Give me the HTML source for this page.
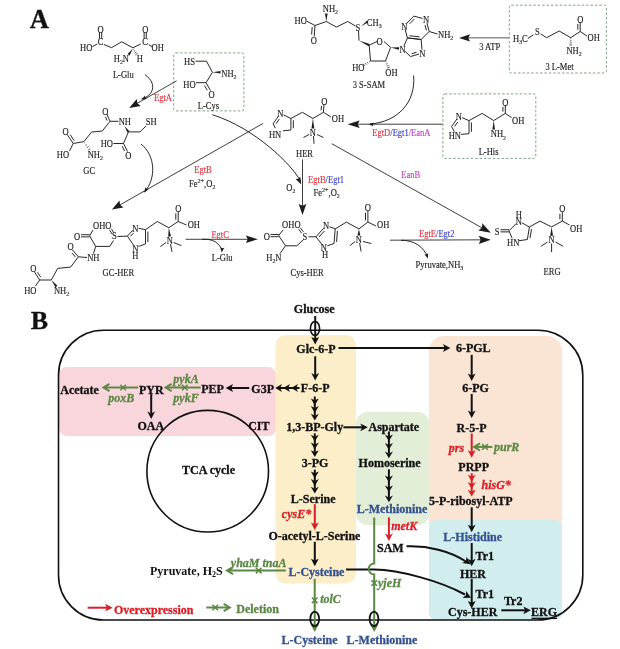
<!DOCTYPE html>
<html><head><meta charset="utf-8"><title>figure</title><style>
html,body{margin:0;padding:0;background:#fff;width:620px;height:649px;overflow:hidden}
svg{display:block;filter:blur(0.3px)}
text{font-family:"Liberation Serif",serif}
</style></head><body>
<svg width="620" height="649" viewBox="0 0 620 649">
<text x="39.5" y="329.0" font-size="26" fill="#111" stroke="#111" stroke-width="0.3" text-anchor="middle" style="font-weight:bold" >B</text>
<rect x="59" y="367" width="217" height="69" rx="8" fill="#f8d6dc"/>
<rect x="275.5" y="335" width="80.5" height="248.5" rx="10" fill="#fdeeca"/>
<rect x="429" y="336" width="133" height="200" rx="15" fill="#fae5d5"/>
<rect x="356" y="412" width="73.5" height="113" rx="12" fill="#e2eed7"/>
<rect x="429" y="520" width="133" height="100" rx="7" fill="#d1eded"/>
<rect x="58.5" y="330.2" width="524.3" height="289.8" rx="45" fill="none" stroke="#111" stroke-width="1.6"/>
<line x1="531.50" y1="618.30" x2="557.00" y2="618.30" stroke="#111" stroke-width="1.3"/>
<circle cx="207.7" cy="471.2" r="60.8" fill="none" stroke="#111" stroke-width="1.6"/>
<text x="314.2" y="313.4" font-size="12" fill="#111" stroke="#111" stroke-width="0.3" text-anchor="middle" style="font-weight:bold" >Glucose</text>
<text x="316.0" y="353.0" font-size="12" fill="#111" stroke="#111" stroke-width="0.3" text-anchor="middle" style="font-weight:bold" >Glc-6-P</text>
<text x="473.3" y="352.1" font-size="12" fill="#111" stroke="#111" stroke-width="0.3" text-anchor="middle" style="font-weight:bold" >6-PGL</text>
<text x="79.6" y="393.5" font-size="12" fill="#111" stroke="#111" stroke-width="0.3" text-anchor="middle" style="font-weight:bold" >Acetate</text>
<text x="151.3" y="393.5" font-size="12" fill="#111" stroke="#111" stroke-width="0.3" text-anchor="middle" style="font-weight:bold" >PYR</text>
<text x="212.5" y="393.4" font-size="12" fill="#111" stroke="#111" stroke-width="0.3" text-anchor="middle" style="font-weight:bold" >PEP</text>
<text x="262.7" y="393.4" font-size="12" fill="#111" stroke="#111" stroke-width="0.3" text-anchor="middle" style="font-weight:bold" >G3P</text>
<text x="315.2" y="392.3" font-size="12" fill="#111" stroke="#111" stroke-width="0.3" text-anchor="middle" style="font-weight:bold" >F-6-P</text>
<text x="475.5" y="392.4" font-size="12" fill="#111" stroke="#111" stroke-width="0.3" text-anchor="middle" style="font-weight:bold" >6-PG</text>
<text x="150.8" y="429.7" font-size="12" fill="#111" stroke="#111" stroke-width="0.3" text-anchor="middle" style="font-weight:bold" >OAA</text>
<text x="258.8" y="429.6" font-size="12" fill="#111" stroke="#111" stroke-width="0.3" text-anchor="middle" style="font-weight:bold" >CIT</text>
<text x="314.7" y="431.2" font-size="12" fill="#111" stroke="#111" stroke-width="0.3" text-anchor="middle" style="font-weight:bold" >1,3-BP-Gly</text>
<text x="393.8" y="430.5" font-size="12" fill="#111" stroke="#111" stroke-width="0.3" text-anchor="middle" style="font-weight:bold" >Aspartate</text>
<text x="471.5" y="431.9" font-size="12" fill="#111" stroke="#111" stroke-width="0.3" text-anchor="middle" style="font-weight:bold" >R-5-P</text>
<text x="121.3" y="402.1" font-size="12" fill="#5a8743" stroke="#5a8743" stroke-width="0.3" text-anchor="middle" style="font-weight:bold;font-style:italic" >poxB</text>
<text x="186.0" y="382.8" font-size="12" fill="#5a8743" stroke="#5a8743" stroke-width="0.3" text-anchor="middle" style="font-weight:bold;font-style:italic" >pykA</text>
<text x="186.0" y="402.0" font-size="12" fill="#5a8743" stroke="#5a8743" stroke-width="0.3" text-anchor="middle" style="font-weight:bold;font-style:italic" >pykF</text>
<text x="456.4" y="452.1" font-size="12" fill="#d81f26" stroke="#d81f26" stroke-width="0.3" text-anchor="middle" style="font-weight:bold;font-style:italic" >prs</text>
<text x="506.7" y="450.9" font-size="12" fill="#5a8743" stroke="#5a8743" stroke-width="0.3" text-anchor="middle" style="font-weight:bold;font-style:italic" >purR</text>
<text x="473.7" y="471.0" font-size="12" fill="#111" stroke="#111" stroke-width="0.3" text-anchor="middle" style="font-weight:bold" >PRPP</text>
<text x="315.1" y="467.2" font-size="12" fill="#111" stroke="#111" stroke-width="0.3" text-anchor="middle" style="font-weight:bold" >3-PG</text>
<text x="389.6" y="467.2" font-size="12" fill="#111" stroke="#111" stroke-width="0.3" text-anchor="middle" style="font-weight:bold" >Homoserine</text>
<text x="208.5" y="473.5" font-size="12" fill="#111" stroke="#111" stroke-width="0.3" text-anchor="middle" style="font-weight:bold" >TCA cycle</text>
<text x="496.2" y="488.9" font-size="12" fill="#d81f26" stroke="#d81f26" stroke-width="0.3" text-anchor="middle" style="font-weight:bold;font-style:italic" >hisG*</text>
<text x="313.2" y="502.5" font-size="12" fill="#111" stroke="#111" stroke-width="0.3" text-anchor="middle" style="font-weight:bold" >L-Serine</text>
<text x="470.8" y="504.5" font-size="12" fill="#111" stroke="#111" stroke-width="0.3" text-anchor="middle" style="font-weight:bold" >5-P-ribosyl-ATP</text>
<text x="392.0" y="513.3" font-size="12" fill="#34518f" stroke="#34518f" stroke-width="0.3" text-anchor="middle" style="font-weight:bold" >L-Methionine</text>
<text x="296.5" y="518.2" font-size="12" fill="#d81f26" stroke="#d81f26" stroke-width="0.3" text-anchor="middle" style="font-weight:bold;font-style:italic" >cysE*</text>
<text x="404.2" y="529.7" font-size="12" fill="#d81f26" stroke="#d81f26" stroke-width="0.3" text-anchor="middle" style="font-weight:bold;font-style:italic" >metK</text>
<text x="314.4" y="539.7" font-size="12" fill="#111" stroke="#111" stroke-width="0.3" text-anchor="middle" style="font-weight:bold" >O-acetyl-L-Serine</text>
<text x="472.7" y="541.3" font-size="12" fill="#34518f" stroke="#34518f" stroke-width="0.3" text-anchor="middle" style="font-weight:bold" >L-Histidine</text>
<text x="390.3" y="552.0" font-size="12" fill="#111" stroke="#111" stroke-width="0.3" text-anchor="middle" style="font-weight:bold" >SAM</text>
<text x="484.8" y="559.7" font-size="12" fill="#111" stroke="#111" stroke-width="0.3" text-anchor="middle" style="font-weight:bold" >Tr1</text>
<text x="258.7" y="566.8" font-size="12" fill="#5a8743" stroke="#5a8743" stroke-width="0.3" text-anchor="middle" style="font-weight:bold;font-style:italic" >yhaM tnaA</text>
<text x="150" y="575" font-size="12" fill="#111" style="font-weight:bold">Pyruvate, H<tspan font-size="8" dy="2">2</tspan><tspan dy="-2">S</tspan></text>
<text x="316.4" y="575.9" font-size="12" fill="#34518f" stroke="#34518f" stroke-width="0.3" text-anchor="middle" style="font-weight:bold" >L-Cysteine</text>
<text x="473.0" y="577.7" font-size="12" fill="#111" stroke="#111" stroke-width="0.3" text-anchor="middle" style="font-weight:bold" >HER</text>
<text x="389.7" y="587.0" font-size="12" fill="#5a8743" stroke="#5a8743" stroke-width="0.3" text-anchor="middle" style="font-weight:bold;font-style:italic" >yjeH</text>
<text x="484.8" y="598.0" font-size="12" fill="#111" stroke="#111" stroke-width="0.3" text-anchor="middle" style="font-weight:bold" >Tr1</text>
<text x="330.5" y="602.7" font-size="12" fill="#5a8743" stroke="#5a8743" stroke-width="0.3" text-anchor="middle" style="font-weight:bold;font-style:italic" >tolC</text>
<text x="513.2" y="605.2" font-size="12" fill="#111" stroke="#111" stroke-width="0.3" text-anchor="middle" style="font-weight:bold" >Tr2</text>
<text x="153.7" y="613.9" font-size="12" fill="#d81f26" stroke="#d81f26" stroke-width="0.3" text-anchor="middle" style="font-weight:bold" >Overexpression</text>
<text x="257.6" y="613.3" font-size="12" fill="#5a8743" stroke="#5a8743" stroke-width="0.3" text-anchor="middle" style="font-weight:bold" >Deletion</text>
<text x="472.7" y="616.0" font-size="12" fill="#111" stroke="#111" stroke-width="0.3" text-anchor="middle" style="font-weight:bold" >Cys-HER</text>
<text x="544.1" y="616.0" font-size="12" fill="#111" stroke="#111" stroke-width="0.3" text-anchor="middle" style="font-weight:bold" >ERG</text>
<text x="309.5" y="643.9" font-size="12" fill="#34518f" stroke="#34518f" stroke-width="0.3" text-anchor="middle" style="font-weight:bold" >L-Cysteine</text>
<text x="381.9" y="643.7" font-size="12" fill="#34518f" stroke="#34518f" stroke-width="0.3" text-anchor="middle" style="font-weight:bold" >L-Methionine</text>
<line x1="315.20" y1="316.00" x2="315.20" y2="339.15" stroke="#111" stroke-width="2"/>
<path d="M315.20,344.40 L311.30,336.90 L315.20,338.77 L319.10,336.90 Z" fill="#111"/>
<ellipse cx="315" cy="328.5" rx="4.6" ry="7" fill="none" stroke="#111" stroke-width="1.6"/>
<line x1="338.50" y1="348.00" x2="445.15" y2="348.00" stroke="#111" stroke-width="2"/>
<path d="M450.40,348.00 L442.90,351.90 L444.77,348.00 L442.90,344.10 Z" fill="#111"/>
<line x1="315.20" y1="356.30" x2="315.20" y2="375.35" stroke="#111" stroke-width="2"/>
<path d="M315.20,380.60 L311.30,373.10 L315.20,374.98 L319.10,373.10 Z" fill="#111"/>
<line x1="299.50" y1="388.00" x2="279.96" y2="388.00" stroke="#111" stroke-width="2"/>
<path d="M275.20,388.00 L282.00,384.00 L280.10,388.00 L282.00,392.00 Z" fill="#111"/>
<path d="M283.20,388.00 L290.00,384.00 L288.10,388.00 L290.00,392.00 Z" fill="#111"/>
<path d="M291.20,388.00 L298.00,384.00 L296.10,388.00 L298.00,392.00 Z" fill="#111"/>
<line x1="249.20" y1="388.00" x2="230.85" y2="388.00" stroke="#111" stroke-width="2"/>
<path d="M225.60,388.00 L233.10,384.10 L231.22,388.00 L233.10,391.90 Z" fill="#111"/>
<line x1="151.20" y1="394.20" x2="151.20" y2="413.75" stroke="#111" stroke-width="2"/>
<path d="M151.20,419.00 L147.30,411.50 L151.20,413.38 L155.10,411.50 Z" fill="#111"/>
<line x1="314.80" y1="396.50" x2="314.80" y2="415.84" stroke="#111" stroke-width="2"/>
<path d="M314.80,420.60 L310.80,413.80 L314.80,415.70 L318.80,413.80 Z" fill="#111"/>
<path d="M314.80,412.90 L310.80,406.10 L314.80,408.00 L318.80,406.10 Z" fill="#111"/>
<path d="M314.80,405.20 L310.80,398.40 L314.80,400.30 L318.80,398.40 Z" fill="#111"/>
<line x1="343.40" y1="427.30" x2="362.55" y2="427.30" stroke="#111" stroke-width="2"/>
<path d="M367.80,427.30 L360.30,431.20 L362.18,427.30 L360.30,423.40 Z" fill="#111"/>
<line x1="314.80" y1="433.40" x2="314.80" y2="452.24" stroke="#111" stroke-width="2"/>
<path d="M314.80,457.00 L310.80,450.20 L314.80,452.10 L318.80,450.20 Z" fill="#111"/>
<path d="M314.80,449.30 L310.80,442.50 L314.80,444.40 L318.80,442.50 Z" fill="#111"/>
<path d="M314.80,441.60 L310.80,434.80 L314.80,436.70 L318.80,434.80 Z" fill="#111"/>
<line x1="314.80" y1="469.70" x2="314.80" y2="488.84" stroke="#111" stroke-width="2"/>
<path d="M314.80,493.60 L310.80,486.80 L314.80,488.70 L318.80,486.80 Z" fill="#111"/>
<path d="M314.80,485.90 L310.80,479.10 L314.80,481.00 L318.80,479.10 Z" fill="#111"/>
<path d="M314.80,478.20 L310.80,471.40 L314.80,473.30 L318.80,471.40 Z" fill="#111"/>
<line x1="388.90" y1="431.50" x2="388.90" y2="453.54" stroke="#111" stroke-width="2"/>
<path d="M388.90,458.30 L384.90,451.50 L388.90,453.40 L392.90,451.50 Z" fill="#111"/>
<path d="M388.90,449.80 L384.90,443.00 L388.90,444.90 L392.90,443.00 Z" fill="#111"/>
<path d="M388.90,441.30 L384.90,434.50 L388.90,436.40 L392.90,434.50 Z" fill="#111"/>
<line x1="388.90" y1="469.40" x2="388.90" y2="497.54" stroke="#111" stroke-width="2"/>
<path d="M388.90,502.30 L384.90,495.50 L388.90,497.40 L392.90,495.50 Z" fill="#111"/>
<path d="M388.90,492.30 L384.90,485.50 L388.90,487.40 L392.90,485.50 Z" fill="#111"/>
<path d="M388.90,482.30 L384.90,475.50 L388.90,477.40 L392.90,475.50 Z" fill="#111"/>
<line x1="471.70" y1="354.80" x2="471.70" y2="375.75" stroke="#111" stroke-width="2"/>
<path d="M471.70,381.00 L467.80,373.50 L471.70,375.38 L475.60,373.50 Z" fill="#111"/>
<line x1="471.70" y1="394.00" x2="471.70" y2="412.85" stroke="#111" stroke-width="2"/>
<path d="M471.70,418.10 L467.80,410.60 L471.70,412.48 L475.60,410.60 Z" fill="#111"/>
<line x1="314.80" y1="541.80" x2="314.80" y2="560.95" stroke="#111" stroke-width="2"/>
<path d="M314.80,566.20 L310.90,558.70 L314.80,560.58 L318.70,558.70 Z" fill="#111"/>
<line x1="471.70" y1="507.30" x2="471.70" y2="526.95" stroke="#111" stroke-width="2"/>
<path d="M471.70,532.20 L467.80,524.70 L471.70,526.58 L475.60,524.70 Z" fill="#111"/>
<line x1="471.70" y1="543.00" x2="471.70" y2="561.05" stroke="#111" stroke-width="2"/>
<path d="M471.70,566.30 L467.80,558.80 L471.70,560.67 L475.60,558.80 Z" fill="#111"/>
<line x1="471.70" y1="579.00" x2="471.70" y2="603.15" stroke="#111" stroke-width="2"/>
<path d="M471.70,608.40 L467.80,600.90 L471.70,602.77 L475.60,600.90 Z" fill="#111"/>
<line x1="501.30" y1="610.30" x2="525.55" y2="610.30" stroke="#111" stroke-width="2"/>
<path d="M530.80,610.30 L523.30,614.20 L525.17,610.30 L523.30,606.40 Z" fill="#111"/>
<path d="M406.5,546.3 C428,545.5 450,551 466,561.5" fill="none" stroke="#111" stroke-width="2"/>
<path d="M470.50,564.30 L462.13,563.11 L465.92,561.03 L466.66,556.77 Z" fill="#111"/>
<path d="M346,569.6 L374,569.6 C400,570 440,581 465,594.5" fill="none" stroke="#111" stroke-width="2"/>
<path d="M471.00,597.80 L462.55,597.93 L465.97,595.28 L466.04,590.96 Z" fill="#111"/>
<line x1="314.80" y1="504.20" x2="314.80" y2="524.65" stroke="#d81f26" stroke-width="2"/>
<path d="M314.80,529.90 L310.90,522.40 L314.80,524.27 L318.70,522.40 Z" fill="#d81f26"/>
<line x1="388.90" y1="517.40" x2="388.90" y2="535.75" stroke="#d81f26" stroke-width="2"/>
<path d="M388.90,541.00 L385.00,533.50 L388.90,535.38 L392.80,533.50 Z" fill="#d81f26"/>
<line x1="471.70" y1="433.50" x2="471.70" y2="452.45" stroke="#d81f26" stroke-width="2"/>
<path d="M471.70,457.70 L467.80,450.20 L471.70,452.07 L475.60,450.20 Z" fill="#d81f26"/>
<line x1="471.70" y1="473.20" x2="471.70" y2="491.74" stroke="#d81f26" stroke-width="2"/>
<path d="M471.70,496.50 L467.70,489.70 L471.70,491.60 L475.70,489.70 Z" fill="#d81f26"/>
<path d="M471.70,489.00 L467.70,482.20 L471.70,484.10 L475.70,482.20 Z" fill="#d81f26"/>
<path d="M471.70,481.50 L467.70,474.70 L471.70,476.60 L475.70,474.70 Z" fill="#d81f26"/>
<line x1="87.70" y1="607.70" x2="107.35" y2="607.70" stroke="#d81f26" stroke-width="2"/>
<path d="M112.60,607.70 L105.10,611.60 L106.97,607.70 L105.10,603.80 Z" fill="#d81f26"/>
<line x1="138.20" y1="387.50" x2="104.50" y2="387.50" stroke="#5a8743" stroke-width="2"/>
<path d="M109.50,391.10 L103.50,387.50 L109.50,383.90" fill="none" stroke="#5a8743" stroke-width="2"/>
<path d="M120.40,384.70 L126.00,390.30 M120.40,390.30 L126.00,384.70" stroke="#5a8743" stroke-width="1.5"/>
<line x1="200.60" y1="387.50" x2="166.60" y2="387.50" stroke="#5a8743" stroke-width="2"/>
<path d="M171.60,391.10 L165.60,387.50 L171.60,383.90" fill="none" stroke="#5a8743" stroke-width="2"/>
<path d="M182.00,384.70 L187.60,390.30 M182.00,390.30 L187.60,384.70" stroke="#5a8743" stroke-width="1.5"/>
<line x1="285.80" y1="570.60" x2="228.00" y2="570.60" stroke="#5a8743" stroke-width="2"/>
<path d="M233.00,574.20 L227.00,570.60 L233.00,567.00" fill="none" stroke="#5a8743" stroke-width="2"/>
<path d="M255.90,567.80 L261.50,573.40 M255.90,573.40 L261.50,567.80" stroke="#5a8743" stroke-width="1.5"/>
<line x1="492.30" y1="446.90" x2="475.00" y2="446.90" stroke="#5a8743" stroke-width="2"/>
<path d="M480.00,450.50 L474.00,446.90 L480.00,443.30" fill="none" stroke="#5a8743" stroke-width="2"/>
<path d="M482.20,444.10 L487.80,449.70 M482.20,449.70 L487.80,444.10" stroke="#5a8743" stroke-width="1.5"/>
<line x1="206.30" y1="607.50" x2="228.70" y2="607.50" stroke="#5a8743" stroke-width="2"/>
<path d="M223.70,603.90 L229.70,607.50 L223.70,611.10" fill="none" stroke="#5a8743" stroke-width="2"/>
<path d="M212.40,604.70 L218.00,610.30 M212.40,610.30 L218.00,604.70" stroke="#5a8743" stroke-width="1.5"/>
<line x1="314.70" y1="578.70" x2="314.70" y2="626.00" stroke="#5a8743" stroke-width="2"/>
<path d="M311.90,597.50 L317.50,603.10 M311.90,603.10 L317.50,597.50" stroke="#5a8743" stroke-width="1.5"/>
<path d="M310.7,624.5 L314.7,632 L318.7,624.5 Z" fill="#5a8743"/>
<path d="M374.2,517.4 L374.2,563.5 A5.5,5.5 0 0 0 374.2,574.5 L374.2,626" fill="none" stroke="#5a8743" stroke-width="2"/>
<path d="M371.40,580.20 L377.00,585.80 M371.40,585.80 L377.00,580.20" stroke="#5a8743" stroke-width="1.5"/>
<path d="M370.2,624.5 L374.2,632 L378.2,624.5 Z" fill="#5a8743"/>
<ellipse cx="314.7" cy="618.9" rx="4.4" ry="7.2" fill="none" stroke="#111" stroke-width="1.8"/>
<ellipse cx="374" cy="618.9" rx="4.4" ry="7.2" fill="none" stroke="#111" stroke-width="1.8"/>
<text x="39.2" y="27.8" font-size="26.5" font-weight="bold" fill="#111" text-anchor="middle" stroke="#111" stroke-width="0.35" style="font-family:'Liberation Serif',serif">A</text>
<text transform="translate(100.6,32.5) scale(0.87,1)" font-size="9.8" fill="#1c1c1c" text-anchor="middle" stroke="#1c1c1c" stroke-width="0.15">O</text>
<text transform="translate(100.6,45.4) scale(0.87,1)" font-size="9.8" fill="#1c1c1c" text-anchor="middle" stroke="#1c1c1c" stroke-width="0.15">C</text>
<text transform="translate(80.0,50.9) scale(0.87,1)" font-size="9.8" fill="#1c1c1c" text-anchor="start" stroke="#1c1c1c" stroke-width="0.15">HO</text>
<line x1="101.68" y1="32.50" x2="101.68" y2="38.50" stroke="#1c1c1c" stroke-width="0.95"/>
<line x1="99.52" y1="32.50" x2="99.52" y2="38.50" stroke="#1c1c1c" stroke-width="0.95"/>
<line x1="92.50" y1="46.50" x2="97.30" y2="44.00" stroke="#1c1c1c" stroke-width="0.95"/>
<line x1="104.00" y1="44.50" x2="111.50" y2="47.70" stroke="#1c1c1c" stroke-width="0.95"/>
<line x1="111.50" y1="47.70" x2="121.60" y2="41.80" stroke="#1c1c1c" stroke-width="0.95"/>
<line x1="121.60" y1="41.80" x2="132.90" y2="47.70" stroke="#1c1c1c" stroke-width="0.95"/>
<line x1="132.90" y1="47.70" x2="140.80" y2="44.00" stroke="#1c1c1c" stroke-width="0.95"/>
<text transform="translate(145.2,45.4) scale(0.87,1)" font-size="9.8" fill="#1c1c1c" text-anchor="middle" stroke="#1c1c1c" stroke-width="0.15">C</text>
<text transform="translate(145.2,32.5) scale(0.87,1)" font-size="9.8" fill="#1c1c1c" text-anchor="middle" stroke="#1c1c1c" stroke-width="0.15">O</text>
<line x1="146.28" y1="32.50" x2="146.28" y2="38.50" stroke="#1c1c1c" stroke-width="0.95"/>
<line x1="144.12" y1="32.50" x2="144.12" y2="38.50" stroke="#1c1c1c" stroke-width="0.95"/>
<line x1="148.80" y1="44.80" x2="152.50" y2="46.80" stroke="#1c1c1c" stroke-width="0.95"/>
<text transform="translate(151.5,50.9) scale(0.87,1)" font-size="9.8" fill="#1c1c1c" text-anchor="start" stroke="#1c1c1c" stroke-width="0.15">OH</text>
<text transform="translate(113.8,61.7) scale(0.87,1)" font-size="9.8" fill="#1c1c1c" text-anchor="start" stroke="#1c1c1c" stroke-width="0.15">H<tspan dy="2.2" font-size="6.7">2</tspan><tspan dy="-2.2">​</tspan>N</text>
<text transform="translate(136.8,61.7) scale(0.87,1)" font-size="9.8" fill="#1c1c1c" text-anchor="start" stroke="#1c1c1c" stroke-width="0.15">H</text>
<path d="M132.90,48.50 L127.61,54.12 L129.59,55.48 Z" fill="#1c1c1c"/>
<line x1="133.02" y1="49.56" x2="133.80" y2="49.07" stroke="#1c1c1c" stroke-width="0.7"/>
<line x1="133.77" y1="51.36" x2="135.10" y2="50.52" stroke="#1c1c1c" stroke-width="0.7"/>
<line x1="134.52" y1="53.16" x2="136.40" y2="51.97" stroke="#1c1c1c" stroke-width="0.7"/>
<line x1="135.27" y1="54.95" x2="137.70" y2="53.42" stroke="#1c1c1c" stroke-width="0.7"/>
<text transform="translate(123.3,77.7) scale(0.87,1)" font-size="9.8" fill="#1c1c1c" text-anchor="middle" stroke="#1c1c1c" stroke-width="0.15">L-Glu</text>
<rect x="173.7" y="52.9" width="70.2" height="58" rx="2" fill="none" stroke="#7fa585" stroke-width="1" stroke-dasharray="2.5,1.9"/>
<text transform="translate(184.0,65.0) scale(0.87,1)" font-size="9.8" fill="#1c1c1c" text-anchor="start" stroke="#1c1c1c" stroke-width="0.15">HS</text>
<line x1="195.50" y1="61.20" x2="206.50" y2="61.20" stroke="#1c1c1c" stroke-width="0.95"/>
<line x1="206.50" y1="61.20" x2="212.40" y2="72.30" stroke="#1c1c1c" stroke-width="0.95"/>
<path d="M212.40,72.30 L220.50,73.60 L220.50,71.00 Z" fill="#1c1c1c"/>
<text transform="translate(221.3,77.0) scale(0.87,1)" font-size="9.8" fill="#1c1c1c" text-anchor="start" stroke="#1c1c1c" stroke-width="0.15">NH<tspan dy="2.2" font-size="6.7">2</tspan><tspan dy="-2.2">​</tspan></text>
<line x1="212.40" y1="72.30" x2="206.00" y2="82.70" stroke="#1c1c1c" stroke-width="0.95"/>
<line x1="206.00" y1="82.70" x2="196.00" y2="82.70" stroke="#1c1c1c" stroke-width="0.95"/>
<text transform="translate(183.3,87.5) scale(0.87,1)" font-size="9.8" fill="#1c1c1c" text-anchor="start" stroke="#1c1c1c" stroke-width="0.15">HO</text>
<line x1="206.00" y1="82.70" x2="210.50" y2="90.50" stroke="#1c1c1c" stroke-width="0.95"/>
<line x1="204.56" y1="85.61" x2="207.26" y2="90.29" stroke="#1c1c1c" stroke-width="0.95"/>
<text transform="translate(211.6,97.9) scale(0.87,1)" font-size="9.8" fill="#1c1c1c" text-anchor="middle" stroke="#1c1c1c" stroke-width="0.15">O</text>
<text transform="translate(208.4,109.4) scale(0.87,1)" font-size="9.8" fill="#1c1c1c" text-anchor="middle" stroke="#1c1c1c" stroke-width="0.15">L-Cys</text>
<text transform="translate(322.8,12.0) scale(0.87,1)" font-size="9.8" fill="#1c1c1c" text-anchor="start" stroke="#1c1c1c" stroke-width="0.15">NH<tspan dy="2.2" font-size="6.7">2</tspan><tspan dy="-2.2">​</tspan></text>
<path d="M326.30,21.50 L327.60,13.50 L325.00,13.50 Z" fill="#1c1c1c"/>
<text transform="translate(294.6,24.4) scale(0.87,1)" font-size="9.8" fill="#1c1c1c" text-anchor="start" stroke="#1c1c1c" stroke-width="0.15">HO</text>
<line x1="307.00" y1="21.30" x2="315.00" y2="25.50" stroke="#1c1c1c" stroke-width="0.95"/>
<line x1="315.00" y1="25.50" x2="326.30" y2="21.50" stroke="#1c1c1c" stroke-width="0.95"/>
<line x1="315.00" y1="25.50" x2="314.20" y2="36.50" stroke="#1c1c1c" stroke-width="0.95"/>
<line x1="312.18" y1="27.10" x2="311.64" y2="34.51" stroke="#1c1c1c" stroke-width="0.95"/>
<text transform="translate(313.9,44.3) scale(0.87,1)" font-size="9.8" fill="#1c1c1c" text-anchor="middle" stroke="#1c1c1c" stroke-width="0.15">O</text>
<line x1="326.30" y1="21.50" x2="336.40" y2="27.10" stroke="#1c1c1c" stroke-width="0.95"/>
<line x1="336.40" y1="27.10" x2="347.70" y2="21.50" stroke="#1c1c1c" stroke-width="0.95"/>
<line x1="347.70" y1="21.50" x2="355.50" y2="26.00" stroke="#1c1c1c" stroke-width="0.95"/>
<text transform="translate(355.4,31.2) scale(0.87,1)" font-size="9.8" fill="#1c1c1c" text-anchor="start" stroke="#1c1c1c" stroke-width="0.15">S</text>
<path d="M361.00,26.50 L368.17,22.37 L366.83,20.63 Z" fill="#1c1c1c"/>
<text transform="translate(366.8,25.5) scale(0.87,1)" font-size="9.8" fill="#1c1c1c" text-anchor="start" stroke="#1c1c1c" stroke-width="0.15">CH<tspan dy="2.2" font-size="6.7">3</tspan><tspan dy="-2.2">​</tspan></text>
<line x1="358.50" y1="31.00" x2="359.00" y2="40.60" stroke="#1c1c1c" stroke-width="0.95"/>
<path d="M359.00,40.60 L368.71,46.29 L369.69,44.11 Z" fill="#1c1c1c"/>
<line x1="369.20" y1="45.20" x2="377.00" y2="41.50" stroke="#1c1c1c" stroke-width="0.95"/>
<line x1="384.00" y1="41.50" x2="390.60" y2="47.40" stroke="#1c1c1c" stroke-width="0.95"/>
<text transform="translate(379.5,44.7) scale(0.87,1)" font-size="9.8" fill="#1c1c1c" text-anchor="middle" stroke="#1c1c1c" stroke-width="0.15">O</text>
<line x1="390.60" y1="47.40" x2="385.50" y2="61.00" stroke="#1c1c1c" stroke-width="0.95"/>
<line x1="385.50" y1="61.00" x2="370.50" y2="61.00" stroke="#1c1c1c" stroke-width="0.95"/>
<line x1="370.50" y1="61.00" x2="369.20" y2="45.20" stroke="#1c1c1c" stroke-width="0.95"/>
<path d="M390.60,47.40 L398.83,49.79 L399.17,47.21 Z" fill="#1c1c1c"/>
<line x1="369.32" y1="61.17" x2="369.80" y2="61.96" stroke="#1c1c1c" stroke-width="0.7"/>
<line x1="367.28" y1="62.01" x2="368.09" y2="63.36" stroke="#1c1c1c" stroke-width="0.7"/>
<line x1="365.24" y1="62.86" x2="366.38" y2="64.77" stroke="#1c1c1c" stroke-width="0.7"/>
<line x1="363.20" y1="63.70" x2="364.68" y2="66.17" stroke="#1c1c1c" stroke-width="0.7"/>
<text transform="translate(352.2,70.5) scale(0.87,1)" font-size="9.8" fill="#1c1c1c" text-anchor="start" stroke="#1c1c1c" stroke-width="0.15">HO</text>
<line x1="385.52" y1="62.13" x2="386.36" y2="61.74" stroke="#1c1c1c" stroke-width="0.7"/>
<line x1="386.10" y1="64.15" x2="387.53" y2="63.48" stroke="#1c1c1c" stroke-width="0.7"/>
<line x1="386.68" y1="66.16" x2="388.70" y2="65.22" stroke="#1c1c1c" stroke-width="0.7"/>
<line x1="387.26" y1="68.17" x2="389.87" y2="66.95" stroke="#1c1c1c" stroke-width="0.7"/>
<text transform="translate(385.3,76.1) scale(0.87,1)" font-size="9.8" fill="#1c1c1c" text-anchor="start" stroke="#1c1c1c" stroke-width="0.15">OH</text>
<text transform="translate(368.9,87.6) scale(0.87,1)" font-size="9.8" fill="#1c1c1c" text-anchor="middle" stroke="#1c1c1c" stroke-width="0.15">3 S-SAM</text>
<text transform="translate(402.6,53.1) scale(0.87,1)" font-size="9.8" fill="#1c1c1c" text-anchor="middle" stroke="#1c1c1c" stroke-width="0.15">N</text>
<text transform="translate(422.3,57.1) scale(0.87,1)" font-size="9.8" fill="#1c1c1c" text-anchor="middle" stroke="#1c1c1c" stroke-width="0.15">N</text>
<text transform="translate(404.2,29.7) scale(0.87,1)" font-size="9.8" fill="#1c1c1c" text-anchor="middle" stroke="#1c1c1c" stroke-width="0.15">N</text>
<text transform="translate(426.0,23.3) scale(0.87,1)" font-size="9.8" fill="#1c1c1c" text-anchor="middle" stroke="#1c1c1c" stroke-width="0.15">N</text>
<line x1="405.19" y1="51.56" x2="410.60" y2="56.50" stroke="#1c1c1c" stroke-width="0.95"/>
<line x1="410.60" y1="56.50" x2="418.93" y2="54.15" stroke="#1c1c1c" stroke-width="0.95"/>
<line x1="411.68" y1="53.70" x2="416.55" y2="52.33" stroke="#1c1c1c" stroke-width="0.95"/>
<line x1="421.99" y1="49.71" x2="421.10" y2="39.50" stroke="#1c1c1c" stroke-width="0.95"/>
<line x1="421.10" y1="39.50" x2="407.40" y2="37.90" stroke="#1c1c1c" stroke-width="0.95"/>
<line x1="407.40" y1="37.90" x2="403.97" y2="45.98" stroke="#1c1c1c" stroke-width="0.95"/>
<line x1="421.10" y1="39.50" x2="407.40" y2="37.90" stroke="#1c1c1c" stroke-width="0.95"/>
<line x1="419.59" y1="36.91" x2="409.47" y2="35.73" stroke="#1c1c1c" stroke-width="0.95"/>
<line x1="407.40" y1="37.90" x2="405.09" y2="29.18" stroke="#1c1c1c" stroke-width="0.95"/>
<line x1="406.67" y1="23.33" x2="413.90" y2="16.10" stroke="#1c1c1c" stroke-width="0.95"/>
<line x1="409.64" y1="23.75" x2="414.32" y2="19.07" stroke="#1c1c1c" stroke-width="0.95"/>
<line x1="413.90" y1="16.10" x2="422.62" y2="18.48" stroke="#1c1c1c" stroke-width="0.95"/>
<line x1="426.89" y1="22.78" x2="429.20" y2="31.50" stroke="#1c1c1c" stroke-width="0.95"/>
<line x1="425.03" y1="25.14" x2="426.42" y2="30.37" stroke="#1c1c1c" stroke-width="0.95"/>
<line x1="429.20" y1="31.50" x2="421.10" y2="39.50" stroke="#1c1c1c" stroke-width="0.95"/>
<line x1="429.20" y1="31.50" x2="437.50" y2="34.00" stroke="#1c1c1c" stroke-width="0.95"/>
<text transform="translate(438.0,37.9) scale(0.87,1)" font-size="9.8" fill="#1c1c1c" text-anchor="start" stroke="#1c1c1c" stroke-width="0.15">NH<tspan dy="2.2" font-size="6.7">2</tspan><tspan dy="-2.2">​</tspan></text>
<rect x="509.3" y="5.2" width="97.1" height="67.8" rx="2" fill="none" stroke="#7fa585" stroke-width="1" stroke-dasharray="2.5,1.9"/>
<text transform="translate(513.0,41.6) scale(0.87,1)" font-size="9.8" fill="#1c1c1c" text-anchor="start" stroke="#1c1c1c" stroke-width="0.15">H<tspan dy="2.2" font-size="6.7">3</tspan><tspan dy="-2.2">​</tspan>C</text>
<line x1="527.80" y1="38.50" x2="533.50" y2="34.80" stroke="#1c1c1c" stroke-width="0.95"/>
<text transform="translate(537.3,35.4) scale(0.87,1)" font-size="9.8" fill="#1c1c1c" text-anchor="middle" stroke="#1c1c1c" stroke-width="0.15">S</text>
<line x1="540.50" y1="33.80" x2="546.60" y2="37.70" stroke="#1c1c1c" stroke-width="0.95"/>
<line x1="546.60" y1="37.70" x2="559.20" y2="31.00" stroke="#1c1c1c" stroke-width="0.95"/>
<line x1="559.20" y1="31.00" x2="570.70" y2="37.70" stroke="#1c1c1c" stroke-width="0.95"/>
<line x1="570.70" y1="37.70" x2="580.20" y2="31.50" stroke="#1c1c1c" stroke-width="0.95"/>
<line x1="580.20" y1="31.50" x2="580.20" y2="22.20" stroke="#1c1c1c" stroke-width="0.95"/>
<line x1="577.80" y1="29.70" x2="577.80" y2="24.00" stroke="#1c1c1c" stroke-width="0.95"/>
<text transform="translate(580.2,22.5) scale(0.87,1)" font-size="9.8" fill="#1c1c1c" text-anchor="middle" stroke="#1c1c1c" stroke-width="0.15">O</text>
<line x1="580.20" y1="31.50" x2="587.00" y2="36.00" stroke="#1c1c1c" stroke-width="0.95"/>
<text transform="translate(587.6,40.9) scale(0.87,1)" font-size="9.8" fill="#1c1c1c" text-anchor="start" stroke="#1c1c1c" stroke-width="0.15">OH</text>
<line x1="570.24" y1="38.74" x2="571.16" y2="38.74" stroke="#1c1c1c" stroke-width="0.7"/>
<line x1="569.91" y1="40.81" x2="571.49" y2="40.81" stroke="#1c1c1c" stroke-width="0.7"/>
<line x1="569.59" y1="42.89" x2="571.81" y2="42.89" stroke="#1c1c1c" stroke-width="0.7"/>
<line x1="569.26" y1="44.96" x2="572.14" y2="44.96" stroke="#1c1c1c" stroke-width="0.7"/>
<text transform="translate(566.4,54.2) scale(0.87,1)" font-size="9.8" fill="#1c1c1c" text-anchor="start" stroke="#1c1c1c" stroke-width="0.15">NH<tspan dy="2.2" font-size="6.7">2</tspan><tspan dy="-2.2">​</tspan></text>
<text transform="translate(559.5,69.9) scale(0.87,1)" font-size="9.8" fill="#1c1c1c" text-anchor="middle" stroke="#1c1c1c" stroke-width="0.15">3 L-Met</text>
<line x1="509.30" y1="37.80" x2="466.00" y2="37.80" stroke="#8c8c8c" stroke-width="1.5"/>
<path d="M459.00,37.90 L470.00,34.30 L468.35,37.90 L470.00,41.50 Z" fill="#1c1c1c"/>
<text transform="translate(489.7,49.7) scale(0.87,1)" font-size="9.8" fill="#1c1c1c" text-anchor="middle" stroke="#1c1c1c" stroke-width="0.15">3 ATP</text>
<path d="M413.6,75.5 C416,102 398,122 370,124" fill="none" stroke="#1c1c1c" stroke-width="0.95"/>
<path d="M368.50,124.20 L373.58,122.65 L372.74,124.41 L373.40,126.25 Z" fill="#1c1c1c"/>
<line x1="442.90" y1="124.20" x2="357.20" y2="124.20" stroke="#1c1c1c" stroke-width="0.85"/>
<path d="M347.60,124.20 L359.60,120.40 L357.80,124.20 L359.60,128.00 Z" fill="#1c1c1c"/>
<text transform="translate(372.3,135.9) scale(0.87,1)" font-size="9.8" fill="#1c1c1c" text-anchor="start" stroke-width="0.15"><tspan fill="#dd3340" stroke="#dd3340">EgtD</tspan><tspan fill="#3b3fc4" stroke="#3b3fc4">/Egt1</tspan><tspan fill="#c43fc4" stroke="#c43fc4">/EanA</tspan></text>
<rect x="442.9" y="93.9" width="92.9" height="64.5" rx="2" fill="none" stroke="#7fa585" stroke-width="1" stroke-dasharray="2.5,1.9"/>
<text transform="translate(458.9,120.2) scale(0.87,1)" font-size="9.8" fill="#1c1c1c" text-anchor="middle" stroke="#1c1c1c" stroke-width="0.15">N</text>
<text transform="translate(448.7,138.8) scale(0.87,1)" font-size="9.8" fill="#1c1c1c" text-anchor="start" stroke="#1c1c1c" stroke-width="0.15">HN</text>
<line x1="456.86" y1="119.15" x2="451.60" y2="126.50" stroke="#1c1c1c" stroke-width="0.95"/>
<line x1="457.77" y1="122.01" x2="454.60" y2="126.43" stroke="#1c1c1c" stroke-width="0.95"/>
<line x1="451.60" y1="126.50" x2="454.36" y2="131.71" stroke="#1c1c1c" stroke-width="0.95"/>
<line x1="460.98" y1="134.38" x2="469.00" y2="133.70" stroke="#1c1c1c" stroke-width="0.95"/>
<line x1="469.00" y1="133.70" x2="469.00" y2="120.60" stroke="#1c1c1c" stroke-width="0.95"/>
<line x1="471.40" y1="131.90" x2="471.40" y2="122.40" stroke="#1c1c1c" stroke-width="0.95"/>
<line x1="469.00" y1="120.60" x2="462.12" y2="117.67" stroke="#1c1c1c" stroke-width="0.95"/>
<line x1="469.00" y1="120.60" x2="482.10" y2="113.40" stroke="#1c1c1c" stroke-width="0.95"/>
<line x1="482.10" y1="113.40" x2="493.70" y2="120.60" stroke="#1c1c1c" stroke-width="0.95"/>
<line x1="493.70" y1="120.60" x2="505.30" y2="113.40" stroke="#1c1c1c" stroke-width="0.95"/>
<line x1="505.30" y1="113.40" x2="505.30" y2="105.00" stroke="#1c1c1c" stroke-width="0.95"/>
<line x1="502.90" y1="111.60" x2="502.90" y2="106.80" stroke="#1c1c1c" stroke-width="0.95"/>
<text transform="translate(505.3,105.5) scale(0.87,1)" font-size="9.8" fill="#1c1c1c" text-anchor="middle" stroke="#1c1c1c" stroke-width="0.15">O</text>
<line x1="505.30" y1="113.40" x2="511.50" y2="117.50" stroke="#1c1c1c" stroke-width="0.95"/>
<text transform="translate(512.0,123.7) scale(0.87,1)" font-size="9.8" fill="#1c1c1c" text-anchor="start" stroke="#1c1c1c" stroke-width="0.15">OH</text>
<path d="M493.70,120.60 L492.40,129.50 L495.00,129.50 Z" fill="#1c1c1c"/>
<text transform="translate(490.8,137.3) scale(0.87,1)" font-size="9.8" fill="#1c1c1c" text-anchor="start" stroke="#1c1c1c" stroke-width="0.15">NH<tspan dy="2.2" font-size="6.7">2</tspan><tspan dy="-2.2">​</tspan></text>
<text transform="translate(488.6,154.9) scale(0.87,1)" font-size="9.8" fill="#1c1c1c" text-anchor="middle" stroke="#1c1c1c" stroke-width="0.15">L-His</text>
<text transform="translate(280.4,117.2) scale(0.87,1)" font-size="9.8" fill="#1c1c1c" text-anchor="middle" stroke="#1c1c1c" stroke-width="0.15">N</text>
<text transform="translate(268.9,138.1) scale(0.87,1)" font-size="9.8" fill="#1c1c1c" text-anchor="start" stroke="#1c1c1c" stroke-width="0.15">HN</text>
<line x1="278.40" y1="116.17" x2="273.10" y2="123.80" stroke="#1c1c1c" stroke-width="0.95"/>
<line x1="279.35" y1="119.02" x2="276.10" y2="123.69" stroke="#1c1c1c" stroke-width="0.95"/>
<line x1="273.10" y1="123.80" x2="275.28" y2="128.11" stroke="#1c1c1c" stroke-width="0.95"/>
<line x1="282.97" y1="130.86" x2="290.90" y2="130.00" stroke="#1c1c1c" stroke-width="0.95"/>
<line x1="290.90" y1="130.00" x2="290.90" y2="118.50" stroke="#1c1c1c" stroke-width="0.95"/>
<line x1="293.30" y1="128.20" x2="293.30" y2="120.30" stroke="#1c1c1c" stroke-width="0.95"/>
<line x1="290.90" y1="118.50" x2="283.54" y2="114.85" stroke="#1c1c1c" stroke-width="0.95"/>
<line x1="290.90" y1="118.50" x2="302.40" y2="112.30" stroke="#1c1c1c" stroke-width="0.95"/>
<line x1="302.40" y1="112.30" x2="312.90" y2="118.50" stroke="#1c1c1c" stroke-width="0.95"/>
<line x1="312.90" y1="118.50" x2="323.40" y2="112.30" stroke="#1c1c1c" stroke-width="0.95"/>
<line x1="323.40" y1="112.30" x2="324.00" y2="104.20" stroke="#1c1c1c" stroke-width="0.95"/>
<line x1="321.14" y1="110.33" x2="321.47" y2="105.82" stroke="#1c1c1c" stroke-width="0.95"/>
<text transform="translate(324.4,104.6) scale(0.87,1)" font-size="9.8" fill="#1c1c1c" text-anchor="middle" stroke="#1c1c1c" stroke-width="0.15">O</text>
<line x1="323.40" y1="112.30" x2="331.00" y2="117.00" stroke="#1c1c1c" stroke-width="0.95"/>
<text transform="translate(331.8,122.4) scale(0.87,1)" font-size="9.8" fill="#1c1c1c" text-anchor="start" stroke="#1c1c1c" stroke-width="0.15">OH</text>
<path d="M312.90,118.50 L311.50,128.50 L314.30,128.50 Z" fill="#1c1c1c"/>
<text transform="translate(312.9,136.1) scale(0.87,1)" font-size="9.8" fill="#1c1c1c" text-anchor="middle" stroke="#1c1c1c" stroke-width="0.15">N</text>
<line x1="309.00" y1="134.50" x2="303.50" y2="137.50" stroke="#1c1c1c" stroke-width="0.95"/>
<line x1="317.00" y1="134.50" x2="323.40" y2="137.50" stroke="#1c1c1c" stroke-width="0.95"/>
<line x1="313.50" y1="136.00" x2="314.00" y2="143.70" stroke="#1c1c1c" stroke-width="0.95"/>
<text transform="translate(304.5,157.2) scale(0.87,1)" font-size="9.8" fill="#1c1c1c" text-anchor="middle" stroke="#1c1c1c" stroke-width="0.15">HER</text>
<text transform="translate(105.2,114.5) scale(0.87,1)" font-size="9.8" fill="#1c1c1c" text-anchor="middle" stroke="#1c1c1c" stroke-width="0.15">O</text>
<line x1="106.80" y1="114.00" x2="110.00" y2="121.30" stroke="#1c1c1c" stroke-width="0.95"/>
<line x1="105.32" y1="116.61" x2="107.08" y2="120.61" stroke="#1c1c1c" stroke-width="0.95"/>
<line x1="110.00" y1="121.30" x2="118.50" y2="121.30" stroke="#1c1c1c" stroke-width="0.95"/>
<text transform="translate(118.7,124.9) scale(0.87,1)" font-size="9.8" fill="#1c1c1c" text-anchor="start" stroke="#1c1c1c" stroke-width="0.15">NH</text>
<line x1="110.00" y1="121.30" x2="102.30" y2="131.00" stroke="#1c1c1c" stroke-width="0.95"/>
<line x1="102.30" y1="131.00" x2="91.60" y2="132.00" stroke="#1c1c1c" stroke-width="0.95"/>
<line x1="91.60" y1="132.00" x2="83.90" y2="141.60" stroke="#1c1c1c" stroke-width="0.95"/>
<line x1="83.90" y1="141.60" x2="73.20" y2="143.50" stroke="#1c1c1c" stroke-width="0.95"/>
<line x1="73.20" y1="143.50" x2="67.20" y2="134.50" stroke="#1c1c1c" stroke-width="0.95"/>
<line x1="74.20" y1="140.67" x2="70.20" y2="134.67" stroke="#1c1c1c" stroke-width="0.95"/>
<text transform="translate(65.5,134.7) scale(0.87,1)" font-size="9.8" fill="#1c1c1c" text-anchor="middle" stroke="#1c1c1c" stroke-width="0.15">O</text>
<line x1="73.20" y1="143.50" x2="69.50" y2="151.00" stroke="#1c1c1c" stroke-width="0.95"/>
<text transform="translate(56.8,157.7) scale(0.87,1)" font-size="9.8" fill="#1c1c1c" text-anchor="start" stroke="#1c1c1c" stroke-width="0.15">HO</text>
<line x1="84.28" y1="142.97" x2="85.04" y2="142.45" stroke="#1c1c1c" stroke-width="0.7"/>
<line x1="85.54" y1="145.38" x2="86.84" y2="144.49" stroke="#1c1c1c" stroke-width="0.7"/>
<line x1="86.79" y1="147.79" x2="88.63" y2="146.53" stroke="#1c1c1c" stroke-width="0.7"/>
<line x1="88.05" y1="150.20" x2="90.42" y2="148.57" stroke="#1c1c1c" stroke-width="0.7"/>
<text transform="translate(87.7,157.7) scale(0.87,1)" font-size="9.8" fill="#1c1c1c" text-anchor="start" stroke="#1c1c1c" stroke-width="0.15">NH<tspan dy="2.2" font-size="6.7">2</tspan><tspan dy="-2.2">​</tspan></text>
<path d="M124.50,126.00 L127.32,132.62 L129.48,131.18 Z" fill="#1c1c1c"/>
<line x1="128.40" y1="131.90" x2="140.00" y2="131.90" stroke="#1c1c1c" stroke-width="0.95"/>
<line x1="140.00" y1="131.90" x2="146.00" y2="126.00" stroke="#1c1c1c" stroke-width="0.95"/>
<text transform="translate(145.8,124.9) scale(0.87,1)" font-size="9.8" fill="#1c1c1c" text-anchor="start" stroke="#1c1c1c" stroke-width="0.15">SH</text>
<line x1="128.40" y1="131.90" x2="123.50" y2="143.50" stroke="#1c1c1c" stroke-width="0.95"/>
<line x1="123.50" y1="143.50" x2="113.50" y2="143.50" stroke="#1c1c1c" stroke-width="0.95"/>
<text transform="translate(100.7,147.3) scale(0.87,1)" font-size="9.8" fill="#1c1c1c" text-anchor="start" stroke="#1c1c1c" stroke-width="0.15">HO</text>
<line x1="123.50" y1="143.50" x2="127.50" y2="151.50" stroke="#1c1c1c" stroke-width="0.95"/>
<line x1="122.16" y1="146.18" x2="124.55" y2="150.96" stroke="#1c1c1c" stroke-width="0.95"/>
<text transform="translate(128.4,158.9) scale(0.87,1)" font-size="9.8" fill="#1c1c1c" text-anchor="middle" stroke="#1c1c1c" stroke-width="0.15">O</text>
<text transform="translate(89.2,174.4) scale(0.87,1)" font-size="9.8" fill="#1c1c1c" text-anchor="middle" stroke="#1c1c1c" stroke-width="0.15">GC</text>
<line x1="176.60" y1="80.80" x2="136.84" y2="103.53" stroke="#1c1c1c" stroke-width="0.85"/>
<path d="M129.20,107.90 L136.76,98.97 L137.32,103.26 L140.73,105.91 Z" fill="#1c1c1c"/>
<path d="M145,74.7 C158,84 153,96 141.5,99" fill="none" stroke="#1c1c1c" stroke-width="0.95"/>
<path d="M141.50,99.50 L145.08,95.48 L145.30,97.60 L146.87,99.05 Z" fill="#1c1c1c"/>
<text transform="translate(154.0,100.9) scale(0.87,1)" font-size="9.8" fill="#dd3340" text-anchor="start" stroke="#dd3340" stroke-width="0.15">EgtA</text>
<path d="M141,144 C155,155 157,178 144.2,192.3" fill="none" stroke="#1c1c1c" stroke-width="0.95"/>
<path d="M144.50,192.50 L145.16,187.16 L146.55,188.78 L148.66,189.08 Z" fill="#1c1c1c"/>
<line x1="263.10" y1="123.40" x2="119.55" y2="205.15" stroke="#1c1c1c" stroke-width="0.85"/>
<path d="M111.90,209.50 L119.48,200.58 L120.03,204.87 L123.44,207.53 Z" fill="#1c1c1c"/>
<text transform="translate(194.3,173.4) scale(0.87,1)" font-size="9.8" fill="#dd3340" text-anchor="start" stroke="#dd3340" stroke-width="0.15">EgtB</text>
<text transform="translate(189.0,186.5) scale(0.87,1)" font-size="9.8" fill="#1c1c1c" text-anchor="start" stroke="#1c1c1c" stroke-width="0.15">Fe<tspan dy="-3.6" font-size="7.1">2+</tspan><tspan dy="3.6">​</tspan>,O<tspan dy="2.2" font-size="6.7">2</tspan><tspan dy="-2.2">​</tspan></text>
<path d="M212.3,114.7 C255,128 292,165 300.5,181" fill="none" stroke="#1c1c1c" stroke-width="0.95"/>
<path d="M301.20,184.50 L295.58,178.89 L298.41,178.77 L300.26,176.62 Z" fill="#1c1c1c"/>
<text transform="translate(286.3,191.1) scale(0.87,1)" font-size="9.8" fill="#1c1c1c" text-anchor="start" stroke="#1c1c1c" stroke-width="0.15">O<tspan dy="2.2" font-size="6.7">2</tspan><tspan dy="-2.2">​</tspan></text>
<line x1="302.50" y1="159.40" x2="302.50" y2="206.20" stroke="#1c1c1c" stroke-width="0.85"/>
<path d="M302.50,215.00 L298.70,204.00 L302.50,205.65 L306.30,204.00 Z" fill="#1c1c1c"/>
<text transform="translate(308.1,183.2) scale(0.87,1)" font-size="9.8" fill="#1c1c1c" text-anchor="start" stroke-width="0.15"><tspan fill="#dd3340" stroke="#dd3340">EgtB</tspan><tspan fill="#3b3fc4" stroke="#3b3fc4">/Egt1</tspan></text>
<text transform="translate(313.4,195.8) scale(0.87,1)" font-size="9.8" fill="#1c1c1c" text-anchor="start" stroke="#1c1c1c" stroke-width="0.15">Fe<tspan dy="-3.6" font-size="7.1">2+</tspan><tspan dy="3.6">​</tspan>,O<tspan dy="2.2" font-size="6.7">2</tspan><tspan dy="-2.2">​</tspan></text>
<line x1="331.80" y1="143.70" x2="482.43" y2="228.11" stroke="#1c1c1c" stroke-width="0.85"/>
<path d="M490.80,232.80 L478.28,230.60 L481.90,227.81 L482.38,223.27 Z" fill="#1c1c1c"/>
<text transform="translate(401.3,178.0) scale(0.87,1)" font-size="9.8" fill="#c43fc4" text-anchor="start" stroke="#c43fc4" stroke-width="0.15">EanB</text>
<text transform="translate(93.0,229.1) scale(0.87,1)" font-size="9.8" fill="#1c1c1c" text-anchor="start" stroke="#1c1c1c" stroke-width="0.15">OHO</text>
<text transform="translate(77.0,239.7) scale(0.87,1)" font-size="9.8" fill="#1c1c1c" text-anchor="middle" stroke="#1c1c1c" stroke-width="0.15">O</text>
<line x1="81.00" y1="234.72" x2="89.60" y2="234.72" stroke="#1c1c1c" stroke-width="0.95"/>
<line x1="81.00" y1="236.88" x2="89.60" y2="236.88" stroke="#1c1c1c" stroke-width="0.95"/>
<line x1="89.60" y1="235.80" x2="93.00" y2="230.00" stroke="#1c1c1c" stroke-width="0.95"/>
<line x1="89.60" y1="235.80" x2="95.70" y2="246.40" stroke="#1c1c1c" stroke-width="0.95"/>
<line x1="95.70" y1="246.40" x2="109.80" y2="246.40" stroke="#1c1c1c" stroke-width="0.95"/>
<line x1="109.80" y1="246.40" x2="113.50" y2="240.50" stroke="#1c1c1c" stroke-width="0.95"/>
<text transform="translate(112.0,239.4) scale(0.87,1)" font-size="9.8" fill="#1c1c1c" text-anchor="start" stroke="#1c1c1c" stroke-width="0.15">S</text>
<line x1="112.08" y1="234.07" x2="109.58" y2="230.07" stroke="#1c1c1c" stroke-width="0.95"/>
<line x1="113.92" y1="232.93" x2="111.42" y2="228.93" stroke="#1c1c1c" stroke-width="0.95"/>
<line x1="117.50" y1="236.50" x2="127.40" y2="236.10" stroke="#1c1c1c" stroke-width="0.95"/>
<text transform="translate(135.2,231.5) scale(0.87,1)" font-size="9.8" fill="#1c1c1c" text-anchor="middle" stroke="#1c1c1c" stroke-width="0.15">N</text>
<text transform="translate(135.2,251.6) scale(0.87,1)" font-size="9.8" fill="#1c1c1c" text-anchor="middle" stroke="#1c1c1c" stroke-width="0.15">N</text>
<text transform="translate(135.2,259.4) scale(0.87,1)" font-size="9.8" fill="#1c1c1c" text-anchor="middle" stroke="#1c1c1c" stroke-width="0.15">H</text>
<line x1="127.40" y1="236.10" x2="132.83" y2="230.18" stroke="#1c1c1c" stroke-width="0.95"/>
<line x1="130.39" y1="236.40" x2="133.38" y2="233.13" stroke="#1c1c1c" stroke-width="0.95"/>
<line x1="138.63" y1="228.30" x2="145.50" y2="229.70" stroke="#1c1c1c" stroke-width="0.95"/>
<line x1="145.50" y1="229.70" x2="145.50" y2="243.90" stroke="#1c1c1c" stroke-width="0.95"/>
<line x1="147.90" y1="231.50" x2="147.90" y2="242.10" stroke="#1c1c1c" stroke-width="0.95"/>
<line x1="145.50" y1="243.90" x2="138.48" y2="246.49" stroke="#1c1c1c" stroke-width="0.95"/>
<line x1="133.25" y1="244.80" x2="127.40" y2="236.10" stroke="#1c1c1c" stroke-width="0.95"/>
<line x1="145.50" y1="229.70" x2="157.30" y2="221.50" stroke="#1c1c1c" stroke-width="0.95"/>
<line x1="157.30" y1="221.50" x2="168.80" y2="227.70" stroke="#1c1c1c" stroke-width="0.95"/>
<line x1="168.80" y1="227.70" x2="178.20" y2="221.50" stroke="#1c1c1c" stroke-width="0.95"/>
<line x1="178.20" y1="221.50" x2="178.20" y2="211.50" stroke="#1c1c1c" stroke-width="0.95"/>
<line x1="175.80" y1="219.70" x2="175.80" y2="213.30" stroke="#1c1c1c" stroke-width="0.95"/>
<text transform="translate(178.2,211.5) scale(0.87,1)" font-size="9.8" fill="#1c1c1c" text-anchor="middle" stroke="#1c1c1c" stroke-width="0.15">O</text>
<line x1="178.20" y1="221.50" x2="186.50" y2="225.00" stroke="#1c1c1c" stroke-width="0.95"/>
<text transform="translate(187.7,228.4) scale(0.87,1)" font-size="9.8" fill="#1c1c1c" text-anchor="start" stroke="#1c1c1c" stroke-width="0.15">OH</text>
<path d="M168.80,227.70 L168.21,236.63 L170.99,236.37 Z" fill="#1c1c1c"/>
<text transform="translate(169.8,244.2) scale(0.87,1)" font-size="9.8" fill="#1c1c1c" text-anchor="middle" stroke="#1c1c1c" stroke-width="0.15">N</text>
<line x1="166.00" y1="242.50" x2="160.40" y2="246.60" stroke="#1c1c1c" stroke-width="0.95"/>
<line x1="173.50" y1="242.50" x2="181.40" y2="245.60" stroke="#1c1c1c" stroke-width="0.95"/>
<line x1="170.50" y1="244.00" x2="172.00" y2="251.90" stroke="#1c1c1c" stroke-width="0.95"/>
<line x1="95.70" y1="246.40" x2="93.50" y2="253.50" stroke="#1c1c1c" stroke-width="0.95"/>
<text transform="translate(87.2,261.3) scale(0.87,1)" font-size="9.8" fill="#1c1c1c" text-anchor="start" stroke="#1c1c1c" stroke-width="0.15">NH</text>
<line x1="87.00" y1="257.50" x2="78.40" y2="256.80" stroke="#1c1c1c" stroke-width="0.95"/>
<line x1="78.40" y1="256.80" x2="72.50" y2="250.00" stroke="#1c1c1c" stroke-width="0.95"/>
<line x1="75.41" y1="257.01" x2="71.87" y2="252.93" stroke="#1c1c1c" stroke-width="0.95"/>
<text transform="translate(70.6,250.4) scale(0.87,1)" font-size="9.8" fill="#1c1c1c" text-anchor="middle" stroke="#1c1c1c" stroke-width="0.15">O</text>
<line x1="78.40" y1="256.80" x2="70.60" y2="267.10" stroke="#1c1c1c" stroke-width="0.95"/>
<line x1="70.60" y1="267.10" x2="57.70" y2="268.40" stroke="#1c1c1c" stroke-width="0.95"/>
<line x1="57.70" y1="268.40" x2="51.30" y2="280.00" stroke="#1c1c1c" stroke-width="0.95"/>
<line x1="51.30" y1="280.00" x2="39.70" y2="280.00" stroke="#1c1c1c" stroke-width="0.95"/>
<line x1="39.70" y1="280.00" x2="34.50" y2="272.00" stroke="#1c1c1c" stroke-width="0.95"/>
<line x1="40.73" y1="277.18" x2="37.49" y2="272.20" stroke="#1c1c1c" stroke-width="0.95"/>
<text transform="translate(33.2,272.3) scale(0.87,1)" font-size="9.8" fill="#1c1c1c" text-anchor="middle" stroke="#1c1c1c" stroke-width="0.15">O</text>
<line x1="39.70" y1="280.00" x2="35.50" y2="286.00" stroke="#1c1c1c" stroke-width="0.95"/>
<text transform="translate(24.2,293.6) scale(0.87,1)" font-size="9.8" fill="#1c1c1c" text-anchor="start" stroke="#1c1c1c" stroke-width="0.15">HO</text>
<path d="M51.30,280.00 L55.48,287.31 L57.52,285.69 Z" fill="#1c1c1c"/>
<text transform="translate(53.9,293.6) scale(0.87,1)" font-size="9.8" fill="#1c1c1c" text-anchor="start" stroke="#1c1c1c" stroke-width="0.15">NH<tspan dy="2.2" font-size="6.7">2</tspan><tspan dy="-2.2">​</tspan></text>
<text transform="translate(118.4,275.7) scale(0.87,1)" font-size="9.8" fill="#1c1c1c" text-anchor="middle" stroke="#1c1c1c" stroke-width="0.15">GC-HER</text>
<line x1="185.60" y1="239.30" x2="248.30" y2="239.30" stroke="#1c1c1c" stroke-width="0.85"/>
<path d="M257.90,239.30 L245.90,243.10 L247.70,239.30 L245.90,235.50 Z" fill="#1c1c1c"/>
<text transform="translate(211.4,238.1) scale(0.87,1)" font-size="9.8" fill="#dd3340" text-anchor="start" stroke="#dd3340" stroke-width="0.15">EgtC</text>
<path d="M202,239.3 C213,238.5 220,243 222,251" fill="none" stroke="#1c1c1c" stroke-width="0.95"/>
<path d="M221.60,252.50 L220.37,247.26 L222.24,248.30 L224.32,247.86 Z" fill="#1c1c1c"/>
<text transform="translate(211.8,260.9) scale(0.87,1)" font-size="9.8" fill="#1c1c1c" text-anchor="start" stroke="#1c1c1c" stroke-width="0.15">L-Glu</text>
<text transform="translate(266.8,239.7) scale(0.87,1)" font-size="9.8" fill="#1c1c1c" text-anchor="middle" stroke="#1c1c1c" stroke-width="0.15">O</text>
<line x1="270.50" y1="234.52" x2="278.70" y2="234.52" stroke="#1c1c1c" stroke-width="0.95"/>
<line x1="270.50" y1="236.68" x2="278.70" y2="236.68" stroke="#1c1c1c" stroke-width="0.95"/>
<text transform="translate(282.1,228.4) scale(0.87,1)" font-size="9.8" fill="#1c1c1c" text-anchor="start" stroke="#1c1c1c" stroke-width="0.15">OHO</text>
<line x1="278.70" y1="235.60" x2="283.00" y2="230.00" stroke="#1c1c1c" stroke-width="0.95"/>
<line x1="278.70" y1="235.60" x2="285.50" y2="245.80" stroke="#1c1c1c" stroke-width="0.95"/>
<line x1="285.50" y1="245.80" x2="296.80" y2="245.80" stroke="#1c1c1c" stroke-width="0.95"/>
<line x1="296.80" y1="245.80" x2="303.00" y2="240.00" stroke="#1c1c1c" stroke-width="0.95"/>
<line x1="285.50" y1="245.80" x2="280.00" y2="253.50" stroke="#1c1c1c" stroke-width="0.95"/>
<text transform="translate(266.3,261.2) scale(0.87,1)" font-size="9.8" fill="#1c1c1c" text-anchor="start" stroke="#1c1c1c" stroke-width="0.15">H<tspan dy="2.2" font-size="6.7">2</tspan><tspan dy="-2.2">​</tspan>N</text>
<text transform="translate(302.4,239.7) scale(0.87,1)" font-size="9.8" fill="#1c1c1c" text-anchor="start" stroke="#1c1c1c" stroke-width="0.15">S</text>
<line x1="301.64" y1="233.15" x2="298.64" y2="229.15" stroke="#1c1c1c" stroke-width="0.95"/>
<line x1="303.36" y1="231.85" x2="300.36" y2="227.85" stroke="#1c1c1c" stroke-width="0.95"/>
<line x1="308.50" y1="236.80" x2="316.00" y2="236.80" stroke="#1c1c1c" stroke-width="0.95"/>
<text transform="translate(326.1,229.4) scale(0.87,1)" font-size="9.8" fill="#1c1c1c" text-anchor="middle" stroke="#1c1c1c" stroke-width="0.15">N</text>
<text transform="translate(323.9,250.9) scale(0.87,1)" font-size="9.8" fill="#1c1c1c" text-anchor="middle" stroke="#1c1c1c" stroke-width="0.15">N</text>
<text transform="translate(325.0,257.9) scale(0.87,1)" font-size="9.8" fill="#1c1c1c" text-anchor="middle" stroke="#1c1c1c" stroke-width="0.15">H</text>
<line x1="316.00" y1="236.80" x2="323.77" y2="228.11" stroke="#1c1c1c" stroke-width="0.95"/>
<line x1="318.99" y1="237.06" x2="324.36" y2="231.05" stroke="#1c1c1c" stroke-width="0.95"/>
<line x1="329.38" y1="226.72" x2="335.20" y2="228.90" stroke="#1c1c1c" stroke-width="0.95"/>
<line x1="335.20" y1="228.90" x2="334.00" y2="243.50" stroke="#1c1c1c" stroke-width="0.95"/>
<line x1="337.44" y1="230.89" x2="336.54" y2="241.90" stroke="#1c1c1c" stroke-width="0.95"/>
<line x1="334.00" y1="243.50" x2="327.21" y2="245.85" stroke="#1c1c1c" stroke-width="0.95"/>
<line x1="321.76" y1="244.23" x2="316.00" y2="236.80" stroke="#1c1c1c" stroke-width="0.95"/>
<line x1="335.20" y1="228.90" x2="346.40" y2="222.10" stroke="#1c1c1c" stroke-width="0.95"/>
<line x1="346.40" y1="222.10" x2="358.90" y2="228.90" stroke="#1c1c1c" stroke-width="0.95"/>
<line x1="358.90" y1="228.90" x2="367.90" y2="222.10" stroke="#1c1c1c" stroke-width="0.95"/>
<line x1="367.90" y1="222.10" x2="367.90" y2="211.00" stroke="#1c1c1c" stroke-width="0.95"/>
<line x1="365.50" y1="220.30" x2="365.50" y2="212.80" stroke="#1c1c1c" stroke-width="0.95"/>
<text transform="translate(367.9,211.1) scale(0.87,1)" font-size="9.8" fill="#1c1c1c" text-anchor="middle" stroke="#1c1c1c" stroke-width="0.15">O</text>
<line x1="367.90" y1="222.10" x2="376.00" y2="226.00" stroke="#1c1c1c" stroke-width="0.95"/>
<text transform="translate(377.0,228.4) scale(0.87,1)" font-size="9.8" fill="#1c1c1c" text-anchor="start" stroke="#1c1c1c" stroke-width="0.15">OH</text>
<path d="M358.90,228.90 L357.50,235.50 L360.30,235.50 Z" fill="#1c1c1c"/>
<text transform="translate(358.9,243.1) scale(0.87,1)" font-size="9.8" fill="#1c1c1c" text-anchor="middle" stroke="#1c1c1c" stroke-width="0.15">N</text>
<line x1="355.00" y1="241.50" x2="349.80" y2="245.80" stroke="#1c1c1c" stroke-width="0.95"/>
<line x1="363.00" y1="241.50" x2="371.30" y2="243.50" stroke="#1c1c1c" stroke-width="0.95"/>
<line x1="359.60" y1="243.00" x2="361.10" y2="251.50" stroke="#1c1c1c" stroke-width="0.95"/>
<text transform="translate(307.0,276.1) scale(0.87,1)" font-size="9.8" fill="#1c1c1c" text-anchor="middle" stroke="#1c1c1c" stroke-width="0.15">Cys-HER</text>
<line x1="390.00" y1="240.20" x2="481.20" y2="239.84" stroke="#1c1c1c" stroke-width="0.85"/>
<path d="M490.80,239.80 L478.82,244.05 L480.60,239.84 L478.78,235.65 Z" fill="#1c1c1c"/>
<text transform="translate(419.0,237.3) scale(0.87,1)" font-size="9.8" fill="#1c1c1c" text-anchor="start" stroke-width="0.15"><tspan fill="#dd3340" stroke="#dd3340">EgtE</tspan><tspan fill="#3b3fc4" stroke="#3b3fc4">/Egt2</tspan></text>
<path d="M401,240.3 C414,240 424,247 427.5,257" fill="none" stroke="#1c1c1c" stroke-width="0.95"/>
<path d="M427.80,258.50 L424.41,254.31 L426.54,254.44 L428.23,253.13 Z" fill="#1c1c1c"/>
<text transform="translate(415.6,267.8) scale(0.87,1)" font-size="9.8" fill="#1c1c1c" text-anchor="start" stroke="#1c1c1c" stroke-width="0.15">Pyruvate,NH<tspan dy="2.2" font-size="6.7">3</tspan><tspan dy="-2.2">​</tspan></text>
<text transform="translate(497.0,234.7) scale(0.87,1)" font-size="9.8" fill="#1c1c1c" text-anchor="middle" stroke="#1c1c1c" stroke-width="0.15">S</text>
<line x1="500.50" y1="229.72" x2="509.00" y2="229.72" stroke="#1c1c1c" stroke-width="0.95"/>
<line x1="500.50" y1="231.88" x2="509.00" y2="231.88" stroke="#1c1c1c" stroke-width="0.95"/>
<text transform="translate(518.7,224.9) scale(0.87,1)" font-size="9.8" fill="#1c1c1c" text-anchor="middle" stroke="#1c1c1c" stroke-width="0.15">N</text>
<text transform="translate(518.7,218.1) scale(0.87,1)" font-size="9.8" fill="#1c1c1c" text-anchor="middle" stroke="#1c1c1c" stroke-width="0.15">H</text>
<text transform="translate(507.1,245.6) scale(0.87,1)" font-size="9.8" fill="#1c1c1c" text-anchor="start" stroke="#1c1c1c" stroke-width="0.15">HN</text>
<line x1="509.00" y1="230.80" x2="516.24" y2="223.49" stroke="#1c1c1c" stroke-width="0.95"/>
<line x1="521.75" y1="222.71" x2="529.40" y2="227.00" stroke="#1c1c1c" stroke-width="0.95"/>
<line x1="529.40" y1="227.00" x2="527.40" y2="239.50" stroke="#1c1c1c" stroke-width="0.95"/>
<line x1="531.49" y1="229.16" x2="530.05" y2="238.10" stroke="#1c1c1c" stroke-width="0.95"/>
<line x1="527.40" y1="239.50" x2="518.45" y2="240.79" stroke="#1c1c1c" stroke-width="0.95"/>
<line x1="512.14" y1="238.27" x2="509.00" y2="230.80" stroke="#1c1c1c" stroke-width="0.95"/>
<line x1="529.40" y1="227.00" x2="540.00" y2="221.10" stroke="#1c1c1c" stroke-width="0.95"/>
<line x1="540.00" y1="221.10" x2="551.60" y2="226.90" stroke="#1c1c1c" stroke-width="0.95"/>
<line x1="551.60" y1="226.90" x2="562.30" y2="221.10" stroke="#1c1c1c" stroke-width="0.95"/>
<line x1="562.30" y1="221.10" x2="562.30" y2="212.00" stroke="#1c1c1c" stroke-width="0.95"/>
<line x1="559.90" y1="219.30" x2="559.90" y2="213.80" stroke="#1c1c1c" stroke-width="0.95"/>
<text transform="translate(562.3,212.2) scale(0.87,1)" font-size="9.8" fill="#1c1c1c" text-anchor="middle" stroke="#1c1c1c" stroke-width="0.15">O</text>
<line x1="562.30" y1="221.10" x2="569.50" y2="225.00" stroke="#1c1c1c" stroke-width="0.95"/>
<text transform="translate(570.0,231.5) scale(0.87,1)" font-size="9.8" fill="#1c1c1c" text-anchor="start" stroke="#1c1c1c" stroke-width="0.15">OH</text>
<path d="M551.60,226.90 L550.20,235.80 L553.00,235.80 Z" fill="#1c1c1c"/>
<text transform="translate(551.6,243.4) scale(0.87,1)" font-size="9.8" fill="#1c1c1c" text-anchor="middle" stroke="#1c1c1c" stroke-width="0.15">N</text>
<line x1="547.50" y1="242.00" x2="541.00" y2="246.30" stroke="#1c1c1c" stroke-width="0.95"/>
<line x1="555.50" y1="242.00" x2="563.20" y2="246.30" stroke="#1c1c1c" stroke-width="0.95"/>
<line x1="551.60" y1="243.50" x2="551.60" y2="252.10" stroke="#1c1c1c" stroke-width="0.95"/>
<text transform="translate(552.1,275.2) scale(0.87,1)" font-size="9.8" fill="#1c1c1c" text-anchor="middle" stroke="#1c1c1c" stroke-width="0.15">ERG</text>
</svg></body></html>
